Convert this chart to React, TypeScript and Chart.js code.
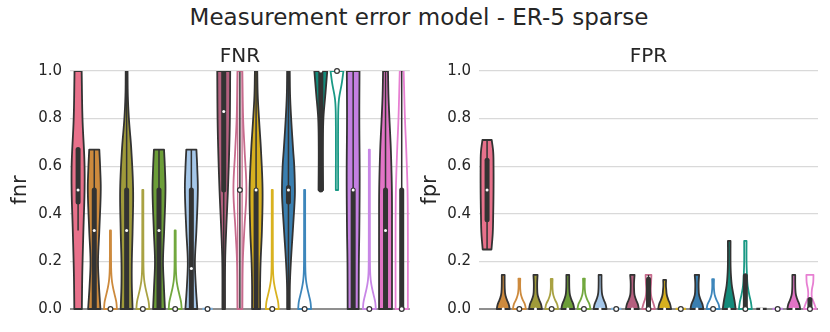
import React, { useEffect, useRef } from 'react';
import { Chart, registerables } from 'chart.js';

Chart.register(...registerables);

const SUPTITLE = 'Measurement error model - ER-5 sparse';
const PANEL_TITLES = ['FNR', 'FPR'];
const Y_LABELS = ['fnr', 'fpr'];
const Y_TICKS = [0, 0.2, 0.4, 0.6, 0.8, 1.0];

const GROUPS = [
  'truth', 'm1', 'm1 ref', 'm2', 'm2 ref', 'm3', 'm3 ref', 'm4', 'm4 ref', 'm5', 'm5 ref',
  'm6', 'm6 ref', 'm7', 'm7 ref', 'm8', 'm8 ref', 'm9', 'm9 ref', 'm10', 'm10 ref',
];

const COLORS = [
  '#e8718b', '#cd8a3d', '#cd8a3d', '#9f9a3a', '#a9a243', '#6c9e38', '#72a83e', '#a5c7e9', '#7fb0dc',
  '#b5607f', '#c66b8c', '#d7b01f', '#d9b21f', '#3a7fb0', '#3d86bb', '#138a7a', '#1a9985',
  '#c480e2', '#c886e6', '#e274c6', '#e77fd2',
];
const FILLED = [1, 1, 0, 1, 0, 1, 0, 1, 0, 1, 0, 1, 0, 1, 0, 1, 0, 1, 0, 1, 0];

// violin outlines: [value, relative width] knots (width 1 = widest)
const FNR_SHAPES: number[][][] = [
  [[0, 0.58], [0.15, 0.65], [0.33, 0.82], [0.5, 1], [0.62, 0.98], [0.8, 0.68], [1, 0.55]],
  [[0, 0.95], [0.1, 0.72], [0.2, 0.58], [0.33, 0.78], [0.5, 1], [0.6, 0.9], [0.67, 0.78]],
  [[0, 1], [0.03, 0.9], [0.06, 0.65], [0.09, 0.4], [0.12, 0.22], [0.16, 0.12], [0.22, 0.09], [0.33, 0.08]],
  [[0, 0.92], [0.1, 0.8], [0.2, 0.8], [0.33, 0.92], [0.5, 1], [0.67, 0.72], [0.8, 0.35], [0.9, 0.18], [1, 0.14]],
  [[0, 1], [0.03, 0.9], [0.06, 0.65], [0.09, 0.4], [0.12, 0.22], [0.16, 0.12], [0.24, 0.09], [0.5, 0.08]],
  [[0, 0.92], [0.1, 0.75], [0.2, 0.62], [0.33, 0.8], [0.5, 1], [0.6, 0.9], [0.67, 0.78]],
  [[0, 1], [0.03, 0.9], [0.06, 0.65], [0.09, 0.4], [0.12, 0.22], [0.16, 0.12], [0.22, 0.09], [0.33, 0.08]],
  [[0, 0.92], [0.1, 0.68], [0.2, 0.55], [0.33, 0.78], [0.5, 1], [0.6, 0.9], [0.67, 0.78]],
  [[0, 0.8]],
  [[0, 0.2], [0.2, 0.22], [0.33, 0.38], [0.5, 0.65], [0.67, 0.85], [0.8, 0.95], [1, 1]],
  [[0, 0.38], [0.2, 0.45], [0.33, 0.68], [0.5, 1], [0.67, 0.72], [0.8, 0.5], [1, 0.38]],
  [[0, 0.62], [0.1, 0.62], [0.2, 0.7], [0.33, 0.9], [0.5, 1], [0.67, 0.75], [0.8, 0.45], [0.9, 0.25], [1, 0.18]],
  [[0, 1], [0.03, 0.9], [0.06, 0.65], [0.09, 0.4], [0.12, 0.22], [0.16, 0.12], [0.24, 0.09], [0.5, 0.08]],
  [[0, 0.2], [0.1, 0.22], [0.2, 0.38], [0.33, 0.68], [0.45, 0.95], [0.5, 1], [0.6, 0.9], [0.67, 0.72], [0.8, 0.42], [0.9, 0.25], [1, 0.2]],
  [[0, 1], [0.03, 0.9], [0.06, 0.65], [0.09, 0.4], [0.12, 0.22], [0.16, 0.12], [0.24, 0.09], [0.5, 0.08]],
  [[0.5, 0.35], [0.67, 0.32], [0.8, 0.4], [0.9, 0.7], [1, 1]],
  [[0.5, 0.18], [0.8, 0.18], [0.88, 0.3], [0.95, 0.75], [1, 1]],
  [[0, 0.85], [0.2, 0.88], [0.33, 0.95], [0.5, 1], [0.6, 1], [0.8, 0.95], [1, 0.98]],
  [[0, 1], [0.03, 0.9], [0.06, 0.65], [0.09, 0.4], [0.12, 0.22], [0.16, 0.12], [0.26, 0.09], [0.67, 0.08]],
  [[0, 1], [0.2, 1], [0.33, 1], [0.5, 0.98], [0.67, 0.82], [0.8, 0.6], [0.9, 0.45], [1, 0.38]],
  [[0, 0.95], [0.33, 0.95], [0.5, 0.9], [0.67, 0.7], [0.8, 0.5], [1, 0.3]],
];
// [whisker low, q1, median, q3, whisker high]
const FNR_STATS: number[][] = [
  [0.33, 0.45, 0.5, 0.67, 0.67], [0, 0, 0.33, 0.5, 0.67], [0, 0, 0, 0, 0],
  [0, 0, 0.33, 0.5, 1], [0, 0, 0, 0, 0], [0, 0, 0.33, 0.5, 0.67], [0, 0, 0, 0, 0],
  [0, 0, 0.17, 0.5, 0.67], [0, 0, 0, 0, 0], [0, 0.5, 0.83, 1, 1], [0, 0, 0.5, 1, 1],
  [0, 0, 0.5, 0.5, 1], [0, 0, 0, 0, 0], [0, 0.45, 0.5, 0.51, 1], [0, 0, 0, 0, 0],
  [0.5, 0.5, 1, 1, 1], [1, 1, 1, 1, 1], [0, 0, 0.5, 0.5, 1], [0, 0, 0, 0, 0],
  [0, 0, 0.33, 0.5, 1], [0, 0, 0, 0.5, 1],
];
const FNR_OUTLINE_BOX = [10];

const FPR_SHAPES: number[][][] = [
  [[0.25, 0.68], [0.32, 0.88], [0.4, 0.95], [0.5, 1], [0.6, 1], [0.66, 0.95], [0.71, 0.72]],
  [[0, 1], [0.02, 0.85], [0.04, 0.55], [0.06, 0.33], [0.08, 0.25], [0.11, 0.22], [0.143, 0.22]],
  [[0, 1], [0.02, 0.85], [0.04, 0.5], [0.06, 0.25], [0.08, 0.15], [0.1, 0.12], [0.128, 0.14]],
  [[0, 1], [0.02, 0.85], [0.04, 0.55], [0.06, 0.33], [0.08, 0.27], [0.11, 0.26], [0.143, 0.32]],
  [[0, 1], [0.02, 0.85], [0.04, 0.5], [0.06, 0.25], [0.08, 0.15], [0.1, 0.12], [0.126, 0.14]],
  [[0, 1], [0.02, 0.85], [0.04, 0.55], [0.06, 0.33], [0.08, 0.25], [0.11, 0.22], [0.143, 0.22]],
  [[0, 1], [0.02, 0.85], [0.04, 0.5], [0.06, 0.25], [0.08, 0.15], [0.1, 0.12], [0.128, 0.14]],
  [[0, 1], [0.02, 0.85], [0.04, 0.55], [0.06, 0.33], [0.08, 0.25], [0.11, 0.22], [0.143, 0.22]],
  [[0, 0.8]],
  [[0, 1], [0.02, 0.85], [0.04, 0.55], [0.06, 0.33], [0.08, 0.27], [0.11, 0.26], [0.143, 0.34]],
  [[0, 1], [0.02, 0.8], [0.05, 0.45], [0.08, 0.35], [0.11, 0.4], [0.143, 0.45]],
  [[0, 1], [0.02, 0.85], [0.04, 0.55], [0.06, 0.33], [0.08, 0.25], [0.1, 0.2], [0.122, 0.22]],
  [[0, 0.8]],
  [[0, 1], [0.02, 0.85], [0.04, 0.55], [0.06, 0.33], [0.08, 0.27], [0.11, 0.26], [0.143, 0.34]],
  [[0, 1], [0.02, 0.85], [0.04, 0.5], [0.06, 0.25], [0.08, 0.15], [0.1, 0.12], [0.125, 0.14]],
  [[0, 1], [0.03, 0.85], [0.06, 0.65], [0.1, 0.4], [0.15, 0.25], [0.2, 0.2], [0.286, 0.2]],
  [[0, 1], [0.03, 0.85], [0.06, 0.6], [0.1, 0.35], [0.14, 0.25], [0.2, 0.18], [0.286, 0.18]],
  [[0, 0.8]],
  [[0, 0.8]],
  [[0, 1], [0.02, 0.85], [0.04, 0.55], [0.06, 0.33], [0.08, 0.25], [0.11, 0.22], [0.143, 0.22]],
  [[0, 0.95], [0.02, 0.7], [0.05, 0.3], [0.08, 0.3], [0.11, 0.5], [0.143, 0.55]],
];
const FPR_STATS: number[][] = [
  [0.25, 0.375, 0.5, 0.625, 0.71], [0, 0, 0, 0, 0], [0, 0, 0, 0, 0],
  [0, 0, 0, 0, 0], [0, 0, 0, 0, 0], [0, 0, 0, 0, 0], [0, 0, 0, 0, 0],
  [0, 0, 0, 0, 0], [0, 0, 0, 0, 0], [0, 0, 0, 0, 0], [0, 0, 0, 0.125, 0.143],
  [0, 0, 0, 0, 0], [0, 0, 0, 0, 0], [0, 0, 0, 0, 0], [0, 0, 0, 0, 0],
  [0, 0, 0, 0, 0], [0, 0, 0, 0.14, 0.14], [0, 0, 0, 0, 0], [0, 0, 0, 0, 0],
  [0, 0, 0, 0, 0], [0, 0, 0, 0.04, 0.04],
];
const FPR_OUTLINE_BOX: number[] = [];

const DARK = '#333333';
const TEXT = '#262626';
const FONT = "'DejaVu Sans', sans-serif";

function widthAt(knots: number[][], v: number): number {
  const n = knots.length;
  if (v <= knots[0][0]) return knots[0][1];
  if (v >= knots[n - 1][0]) return knots[n - 1][1];
  let i = 0;
  while (i < n - 2 && v > knots[i + 1][0]) i++;
  const slope = (j: number) => {
    if (j === 0) return (knots[1][1] - knots[0][1]) / (knots[1][0] - knots[0][0]);
    if (j === n - 1) return (knots[n - 1][1] - knots[n - 2][1]) / (knots[n - 1][0] - knots[n - 2][0]);
    return (knots[j + 1][1] - knots[j - 1][1]) / (knots[j + 1][0] - knots[j - 1][0]);
  };
  const [x0, y0] = knots[i];
  const [x1, y1] = knots[i + 1];
  const h = x1 - x0;
  const t = (v - x0) / h;
  const m0 = slope(i) * h;
  const m1 = slope(i + 1) * h;
  const t2 = t * t;
  const t3 = t2 * t;
  return Math.max(0, (2 * t3 - 3 * t2 + 1) * y0 + (t3 - 2 * t2 + t) * m0 + (-2 * t3 + 3 * t2) * y1 + (t3 - t2) * m1);
}

const violinPlugin = {
  id: 'violins',
  beforeDatasetsDraw(chart: any, _args: any, opts: any) {
    const { ctx, chartArea, scales } = chart;
    const xs = scales.x;
    const ys = scales.y;
    const shapes: number[][][] = opts.shapes;
    const stats: number[][] = opts.stats;
    const outlineBox: number[] = opts.outlineBox;
    const half = 0.4;
    ctx.save();
    ctx.beginPath();
    ctx.rect(chartArea.left, chartArea.top, chartArea.right - chartArea.left, chartArea.bottom - chartArea.top + 1);
    ctx.clip();
    shapes.forEach((knots, i) => {
      const color = COLORS[i];
      const filled = FILLED[i] === 1;
      ctx.lineJoin = 'round';
      if (knots.length === 1) {
        const [v, w] = knots[0];
        const py = ys.getPixelForValue(v);
        ctx.beginPath();
        ctx.moveTo(xs.getPixelForValue(i - half * w), py);
        ctx.lineTo(xs.getPixelForValue(i + half * w), py);
        ctx.strokeStyle = filled ? DARK : color;
        ctx.lineWidth = 2.5;
        ctx.stroke();
      } else {
        const lo = knots[0][0];
        const hi = knots[knots.length - 1][0];
        const N = 120;
        const pts: number[][] = [];
        for (let k = 0; k <= N; k++) {
          const v = lo + ((hi - lo) * k) / N;
          pts.push([v, widthAt(knots, v)]);
        }
        ctx.beginPath();
        pts.forEach(([v, w], k) => {
          const px = xs.getPixelForValue(i + half * w);
          const py = ys.getPixelForValue(v);
          if (k === 0) ctx.moveTo(px, py);
          else ctx.lineTo(px, py);
        });
        for (let k = pts.length - 1; k >= 0; k--) {
          const [v, w] = pts[k];
          ctx.lineTo(xs.getPixelForValue(i - half * w), ys.getPixelForValue(v));
        }
        ctx.closePath();
        if (filled) {
          ctx.fillStyle = color;
          ctx.fill();
          ctx.strokeStyle = DARK;
        } else {
          ctx.strokeStyle = color;
        }
        ctx.lineWidth = 1.8;
        ctx.stroke();
      }
      const [wl, q1, , q3, wh] = stats[i];
      const cx = xs.getPixelForValue(i);
      if (wh > wl) {
        ctx.beginPath();
        ctx.moveTo(cx, ys.getPixelForValue(wl));
        ctx.lineTo(cx, ys.getPixelForValue(wh));
        ctx.strokeStyle = DARK;
        ctx.lineWidth = 1.5;
        ctx.lineCap = 'butt';
        ctx.stroke();
      }
      if (q3 > q1) {
        const yTop = ys.getPixelForValue(q3);
        const yBot = ys.getPixelForValue(q1);
        if (outlineBox.includes(i)) {
          ctx.strokeStyle = color;
          ctx.lineWidth = 1.3;
          ctx.strokeRect(cx - 2.2, yTop, 4.4, yBot - yTop);
        } else {
          ctx.beginPath();
          ctx.moveTo(cx, yBot);
          ctx.lineTo(cx, yTop);
          ctx.strokeStyle = DARK;
          ctx.lineWidth = 5;
          ctx.lineCap = 'round';
          ctx.stroke();
          ctx.lineCap = 'butt';
        }
      }
    });
    ctx.restore();
  },
};

function makeConfig(panel: number) {
  const shapes = panel === 0 ? FNR_SHAPES : FPR_SHAPES;
  const stats = panel === 0 ? FNR_STATS : FPR_STATS;
  const outlineBox = panel === 0 ? FNR_OUTLINE_BOX : FPR_OUTLINE_BOX;
  const axisWidth = panel === 0 ? 70 : 64;
  const rightPad = panel === 0 ? 5 : 12;
  const titlePad = panel === 0 ? 8 : 2.5;
  return {
    type: 'scatter' as const,
    data: {
      datasets: [
        {
          label: 'median',
          data: GROUPS.map((_g, i) => ({ x: i, y: stats[i][2] })),
          pointRadius: GROUPS.map((_g, i) => (FILLED[i] ? 1.5 : 2.4)),
          pointBackgroundColor: '#ffffff',
          pointBorderColor: GROUPS.map((_g, i) => (FILLED[i] ? '#ffffff' : DARK)),
          pointBorderWidth: GROUPS.map((_g, i) => (FILLED[i] ? 0 : 1.2)),
          clip: false as any,
        },
      ],
    },
    options: {
      animation: false as const,
      responsive: false,
      maintainAspectRatio: false,
      events: [],
      layout: { padding: { left: 0, right: rightPad, top: 0, bottom: 23 } },
      plugins: {
        legend: { display: false },
        tooltip: { enabled: false },
        title: {
          display: true,
          text: PANEL_TITLES[panel],
          fullSize: false,
          color: TEXT,
          font: { family: FONT, size: 20, weight: 'normal' as const },
          padding: { top: 45, bottom: 2 },
        },
        violins: { shapes, stats, outlineBox },
      },
      scales: {
        x: { type: 'linear' as const, min: -0.5, max: 20.5, display: false },
        y: {
          type: 'linear' as const,
          min: 0,
          max: 1,
          afterBuildTicks: (s: any) => {
            s.ticks = Y_TICKS.map((v) => ({ value: v }));
          },
          afterFit: (s: any) => {
            s.width = axisWidth;
          },
          ticks: {
            color: TEXT,
            font: { family: FONT, size: 15 },
            padding: 8,
            callback: (v: any) => Number(v).toFixed(1),
          },
          grid: {
            drawTicks: false,
            color: (c: any) => (c.tick && c.tick.value === 0 ? '#8f8f8f' : '#d9d9d9'),
            lineWidth: (c: any) => (c.tick && c.tick.value === 0 ? 2 : 1.2),
          },
          border: { display: false },
          title: {
            display: true,
            text: Y_LABELS[panel],
            color: TEXT,
            font: { family: FONT, size: 21 },
            padding: { top: titlePad, bottom: 0 },
          },
        },
      },
    },
    plugins: [violinPlugin],
  };
}

function Panel({ panel, left }: { panel: number; left: number }) {
  const ref = useRef<HTMLCanvasElement | null>(null);
  useEffect(() => {
    if (!ref.current) return;
    const chart = new Chart(ref.current, makeConfig(panel) as any);
    return () => chart.destroy();
  }, [panel]);
  return (
    <canvas
      ref={ref}
      width={415}
      height={332}
      style={{ position: 'absolute', left, top: 0, width: 415, height: 332 }}
    />
  );
}

export default function App() {
  return (
    <div style={{ position: 'fixed', left: 0, top: 0, width: 830, height: 332, background: '#ffffff', overflow: 'hidden' }}>
      <div
        style={{
          position: 'absolute',
          left: 4,
          top: 4,
          width: 830,
          textAlign: 'center',
          fontFamily: FONT,
          fontSize: 23,
          lineHeight: '26px',
          color: TEXT,
        }}
      >
        {SUPTITLE}
      </div>
      <Panel panel={0} left={0} />
      <Panel panel={1} left={415} />
    </div>
  );
}
